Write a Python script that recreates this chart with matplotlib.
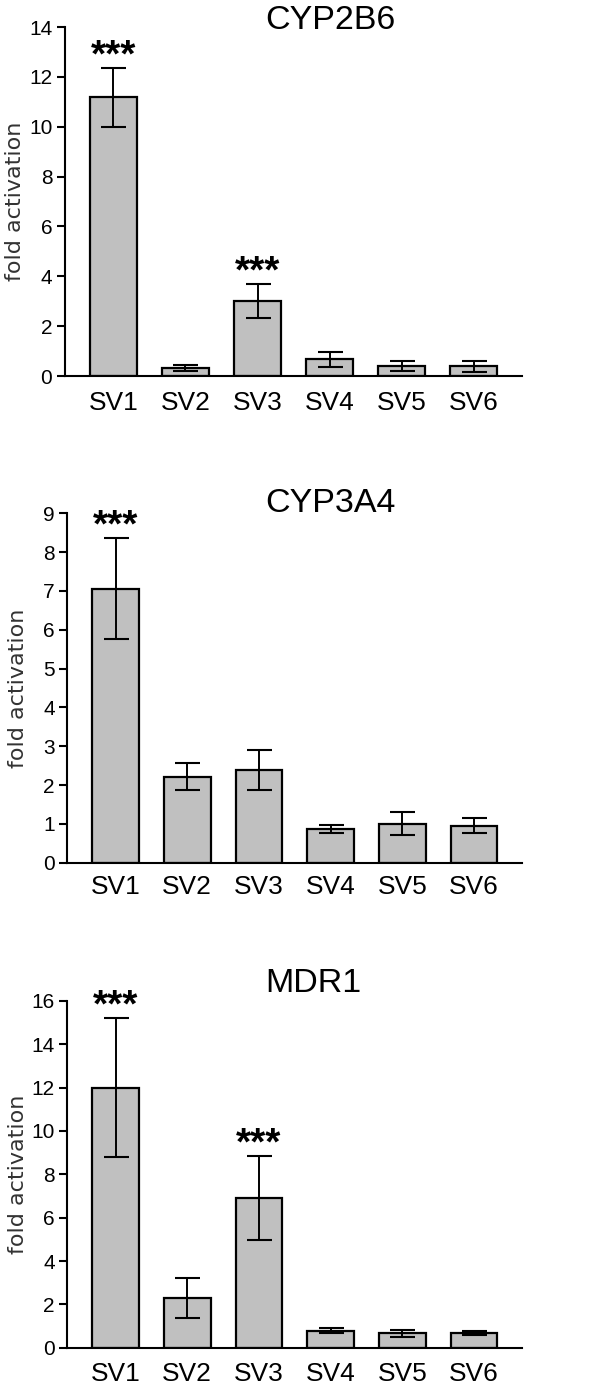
import matplotlib
matplotlib.use("Agg")
import matplotlib.pyplot as plt

plt.rcParams["font.family"] = ["Liberation Sans", "DejaVu Sans"]

variants = ["SV1", "SV2", "SV3", "SV4", "SV5", "SV6"]

cyp2b6_mean = [11.18, 0.31, 3.02, 0.67, 0.40, 0.40]
cyp2b6_err = [1.18, 0.12, 0.68, 0.30, 0.20, 0.22]
cyp2b6_sig = [0, 2]

cyp3a4_mean = [7.06, 2.21, 2.39, 0.87, 1.01, 0.95]
cyp3a4_err = [1.31, 0.35, 0.51, 0.10, 0.29, 0.19]
cyp3a4_sig = [0]

mdr1_mean = [12.0, 2.28, 6.89, 0.78, 0.66, 0.69]
mdr1_err = [3.2, 0.93, 1.94, 0.12, 0.17, 0.08]
mdr1_sig = [0, 2]

panels = [
    # title, mean, err, sig, ymax, step, axes rect, title baseline, x pad
    ("CYP2B6", cyp2b6_mean, cyp2b6_err, cyp2b6_sig, 14, 2,
     [0.108, 0.7285, 0.762, 0.252], 0.9794, 11),
    ("CYP3A4", cyp3a4_mean, cyp3a4_err, cyp3a4_sig, 9, 1,
     [0.112, 0.3771, 0.758, 0.2523], 0.6303, 9),
    ("MDR1", mdr1_mean, mdr1_err, mdr1_sig, 16, 2,
     [0.112, 0.0269, 0.758, 0.2504], 0.2838, 10),
]

fig = plt.figure(figsize=(6, 13.85), dpi=100)

for title, mean, err, sig, ymax, step, rect, ty, xpad in panels:
    ax = fig.add_axes(rect)
    x = list(range(len(variants)))
    ax.bar(x, mean, width=0.65, color="#c0c0c0", edgecolor="black",
           linewidth=1.6, yerr=err,
           error_kw=dict(ecolor="black", elinewidth=1.4, capsize=9,
                         capthick=1.5, zorder=3))
    for i in sig:
        ax.annotate("***", xy=(i, mean[i] + err[i]), xytext=(0, 1),
                    textcoords="offset points", ha="center",
                    va="baseline", fontsize=28, fontweight="bold")
    ax.set_xlim(-0.674, 5.67)
    ax.set_ylim(0, ymax)
    ax.set_yticks(range(0, ymax + 1, step))
    ax.set_xticks(x)
    ax.set_xticklabels(variants, fontsize=19)
    ax.tick_params(axis="x", length=0, pad=xpad)
    ax.tick_params(axis="y", length=6, width=1.5, labelsize=15, pad=3,
                   direction="out")
    for side in ["top", "right"]:
        ax.spines[side].set_visible(False)
    for side in ["left", "bottom"]:
        ax.spines[side].set_linewidth(1.5)
    ax.set_ylabel("fold activation", fontsize=16, color="#333333",
                  family="DejaVu Sans")
    ax.yaxis.set_label_coords(-0.087, 0.5)
    fig.text(0.4417, ty, title, ha="left", va="baseline", fontsize=24.5)

fig.savefig("out.png", dpi=100)
